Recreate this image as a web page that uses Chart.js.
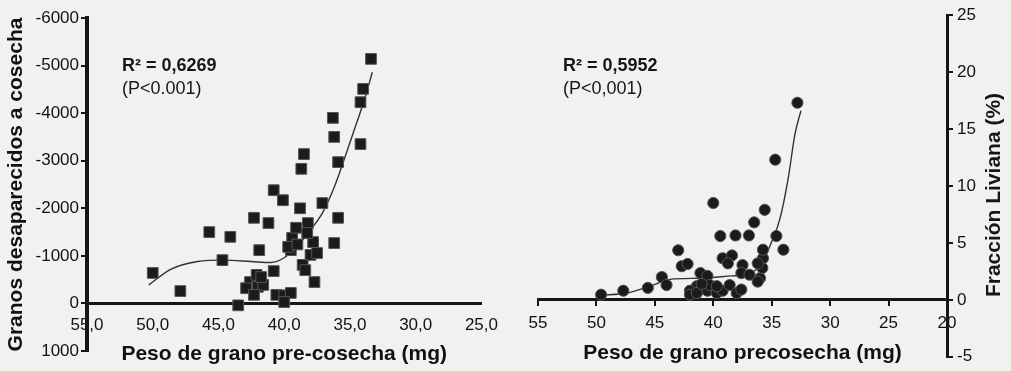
<!DOCTYPE html>
<html>
<head>
<meta charset="utf-8">
<script src="https://cdn.jsdelivr.net/npm/chart.js@4/dist/chart.umd.min.js"></script>
<style>
    html, body { margin: 0; padding: 0; background: #f1f1f0; }
    #wrap { position: relative; width: 1011px; height: 371px; overflow: hidden; }
    canvas { position: absolute; top: 0; }
    #left { left: 0; }
    #right { left: 505px; }
</style>
</head>
<body>
<div id="wrap">
    <canvas id="left" width="510" height="371" style="width:510px;height:371px"></canvas>
    <canvas id="right" width="506" height="371" style="width:506px;height:371px"></canvas>
</div>
<script>
// Left panel: disappeared grains vs pre-harvest grain weight
const leftX = [50.0, 47.9, 45.7, 44.1, 44.7, 42.3, 41.9, 41.2, 40.8, 40.1, 40.8, 42.6, 42.9, 42.0, 41.6,
    42.3, 42.1, 40.6, 40.0, 39.5, 43.5, 39.4, 39.5, 39.7, 39.1, 38.8, 38.2, 37.8, 38.0, 37.5,
    38.6, 38.4, 37.7, 37.1, 36.2, 35.9, 35.9, 36.2, 36.3, 38.7, 38.5, 34.2, 34.2, 34.0, 33.4,
    39.0, 38.25, 40.0, 41.75];
const leftY = [-640, -260, -1500, -1400, -910, -1800, -1120, -1690, -2380, -2170, -680, -450, -320, -350, -390,
    -180, -600, -180, -170, -220, 40, -1380, -1120, -1190, -1590, -2000, -1690, -1290, -1020, -1060,
    -810, -700, -450, -2110, -1270, -1800, -2970, -3500, -3900, -2830, -3140, -3350, -4230, -4510, -5140,
    -1240, -1480, -30, -555];
const leftFitX = [50.3, 48.6, 46.6, 44.6, 42.5, 41.0, 40.0, 39.0, 38.2, 37.1, 36.2, 35.2, 34.5, 33.9, 33.3];
const leftFitY = [-390, -720, -880, -910, -880, -860, -960, -1200, -1480, -1900, -2440, -3220, -3790, -4280, -4860];
const leftXTicks = [55, 50, 45, 40, 35, 30, 25];
const leftXLabels = ['55,0', '50,0', '45,0', '40,0', '35,0', '30,0', '25,0'];

// Right panel: light fraction vs pre-harvest grain weight
const rightX = [49.6, 47.7, 45.6, 44.4, 44.0, 43.0, 42.7, 42.2, 41.1, 40.5, 41.4, 42.0, 40.0, 39.4, 38.1,
    36.95, 36.5, 35.6, 39.2, 38.4, 38.75, 37.5, 37.6, 36.9, 36.0, 35.8, 35.75, 35.75, 34.6, 34.0,
    32.8, 34.7, 42.0, 41.4, 40.5, 39.7, 39.2, 38.6, 38.0, 37.6, 40.3, 41.0, 39.7, 36.2, 36.2];
const rightY = [0.45, 0.8, 1.05, 2.0, 1.3, 4.35, 2.95, 3.15, 2.35, 2.1, 1.2, 0.8, 8.5, 5.6, 5.65,
    5.65, 6.8, 7.9, 3.65, 3.9, 3.2, 3.05, 2.35, 2.2, 1.9, 2.8, 3.65, 4.4, 5.6, 4.4,
    17.3, 12.3, 0.45, 0.6, 0.8, 0.6, 0.8, 1.3, 0.6, 0.9, 1.3, 1.4, 1.2, 1.6, 3.2];
const rightFitX = [49.6, 47.4, 45.4, 43.7, 41.1, 38.4, 36.9, 35.75, 35.0, 34.3, 33.6, 33.0, 32.5];
const rightFitY = [0.4, 0.6, 1.2, 1.8, 1.9, 2.1, 2.3, 3.4, 5.1, 7.1, 10.6, 14.6, 16.6];
const rightXTicks = [55, 50, 45, 40, 35, 30, 25, 20];
const rightXLabels = ['55', '50', '45', '40', '35', '30', '25', '20'];

Chart.defaults.font.family = '"Liberation Sans", Arial, sans-serif';
Chart.defaults.color = '#111';

const toPoints = (xs, ys) => xs.map((x, i) => ({ x: x, y: ys[i] }));
const ink = '#161616';

function noteText(lines) {
    // draws R² / P texts and optional rotated title
    return {
        id: 'notes',
        afterDraw(chart) {
            const ctx = chart.ctx;
            ctx.save();
            ctx.fillStyle = ink;
            ctx.textBaseline = 'middle';
            lines.forEach(l => {
                ctx.font = l.font;
                if (l.rotate) {
                    ctx.translate(l.x, l.y);
                    ctx.rotate(-Math.PI / 2);
                    ctx.textAlign = 'center';
                    ctx.fillText(l.text, 0, 0);
                    ctx.setTransform(1, 0, 0, 1, 0, 0);
                } else {
                    ctx.textAlign = 'left';
                    ctx.fillText(l.text, l.x, l.y);
                }
            });
            ctx.restore();
        }
    };
}

const tickFont = { size: 17 };
const titleFont = { size: 21, weight: 'bold' };

new Chart(document.getElementById('left'), {
    type: 'scatter',
    data: {
        datasets: [{
            data: toPoints(leftX, leftY),
            pointStyle: 'rect',
            pointRadius: 7.6,
            backgroundColor: '#1b1b1b',
            borderColor: '#555',
            borderWidth: 1
        }, {
            type: 'line',
            data: toPoints(leftFitX, leftFitY),
            borderColor: '#333',
            borderWidth: 1.4,
            pointRadius: 0,
            cubicInterpolationMode: 'monotone',
            fill: false
        }]
    },
    options: {
        responsive: false,
        animation: false,
        devicePixelRatio: 1,
        layout: { padding: { left: 0, top: 18, right: 20, bottom: 20 } },
        plugins: { legend: { display: false }, tooltip: { enabled: false } },
        scales: {
            x: {
                type: 'linear', min: 25, max: 55, reverse: true,
                position: { y: 0 },
                border: { width: 3, color: ink },
                grid: { drawOnChartArea: false, drawTicks: false },
                afterBuildTicks: s => { s.ticks = leftXTicks.map(v => ({ value: v })); },
                ticks: {
                    font: tickFont, padding: 12, maxRotation: 0,
                    callback: v => leftXLabels[leftXTicks.indexOf(v)]
                },
                title: { display: true, text: 'Peso de grano pre-cosecha (mg)', font: titleFont, padding: { top: -6, bottom: 4 } }
            },
            y: {
                type: 'linear', min: -6000, max: 1000, reverse: true,
                position: 'left',
                afterFit: s => { s.width = 87; },
                border: { width: 4, color: ink },
                grid: { drawOnChartArea: false, tickLength: 6, color: ink, lineWidth: 2 },
                ticks: { font: tickFont, padding: 2, stepSize: 1000, callback: v => String(v) },
                title: { display: true, text: 'Granos desaparecidos a cosecha', font: titleFont, padding: { top: 4, bottom: 0 } }
            }
        }
    },
    plugins: [noteText([
        { text: 'R² = 0,6269', x: 122, y: 66, font: 'bold 18px "Liberation Sans", Arial, sans-serif' },
        { text: '(P<0.001)', x: 122, y: 89, font: '18px "Liberation Sans", Arial, sans-serif' }
    ])]
});

new Chart(document.getElementById('right'), {
    type: 'scatter',
    data: {
        datasets: [{
            data: toPoints(rightX, rightY),
            pointStyle: 'circle',
            pointRadius: 5.6,
            backgroundColor: '#1b1b1b',
            borderColor: '#555',
            borderWidth: 1
        }, {
            type: 'line',
            data: toPoints(rightFitX, rightFitY),
            borderColor: '#333',
            borderWidth: 1.4,
            pointRadius: 0,
            cubicInterpolationMode: 'monotone',
            fill: false
        }]
    },
    options: {
        responsive: false,
        animation: false,
        devicePixelRatio: 1,
        layout: { padding: { left: 33, top: 15, right: 0, bottom: 13 } },
        plugins: { legend: { display: false }, tooltip: { enabled: false } },
        scales: {
            x: {
                type: 'linear', min: 20, max: 55, reverse: true,
                position: { y: 0 },
                border: { width: 3, color: ink },
                grid: { drawOnChartArea: false, tickLength: 5, color: ink, lineWidth: 2 },
                afterBuildTicks: s => { s.ticks = rightXTicks.map(v => ({ value: v })); },
                ticks: {
                    font: tickFont, padding: 8, maxRotation: 0,
                    callback: v => rightXLabels[rightXTicks.indexOf(v)]
                },
                title: { display: true, text: 'Peso de grano precosecha (mg)', font: titleFont, padding: { top: -1, bottom: 4 } }
            },
            y: {
                type: 'linear', min: -5, max: 25,
                position: 'right',
                afterFit: s => { s.width = 64; },
                border: { width: 3, color: ink },
                grid: { drawOnChartArea: false, tickLength: 6, color: ink, lineWidth: 2 },
                ticks: { font: tickFont, padding: 4, stepSize: 5 }
            }
        }
    },
    plugins: [noteText([
        { text: 'R² = 0,5952', x: 58, y: 66, font: 'bold 18px "Liberation Sans", Arial, sans-serif' },
        { text: '(P<0,001)', x: 58, y: 89, font: '18px "Liberation Sans", Arial, sans-serif' },
        { text: 'Fracción Liviana (%)', x: 489, y: 195, rotate: true, font: 'bold 21px "Liberation Sans", Arial, sans-serif' }
    ])]
});
</script>
</body>
</html>
